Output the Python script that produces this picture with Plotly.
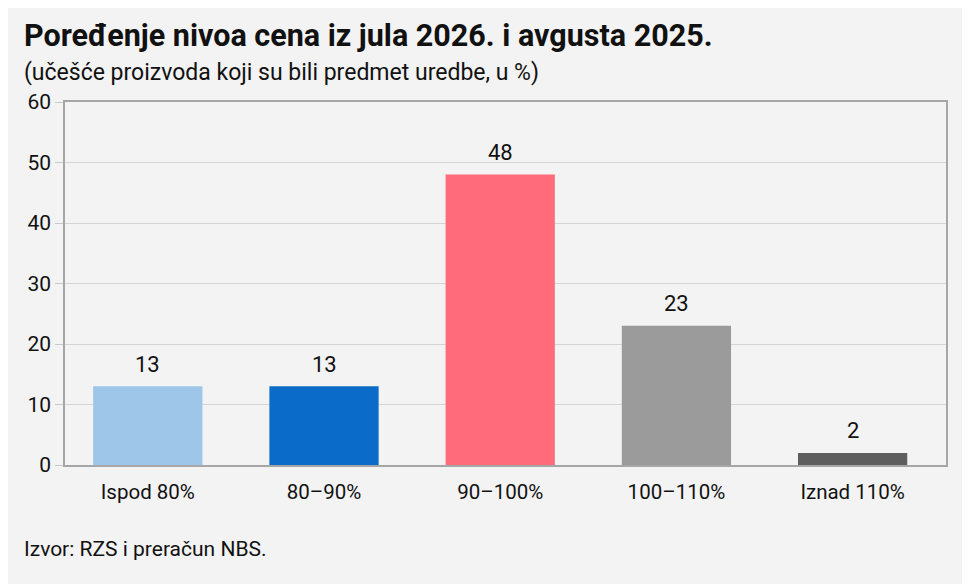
import plotly.graph_objects as go

# udeo proizvoda po nivou cena (jul 2026. vs avgust 2025.)
categories = ["Ispod 80%", "80\u201390%", "90\u2013100%", "100\u2013110%", "Iznad 110%"]
values = [13, 13, 48, 23, 2]
bar_colors = ["#9dc6e8", "#0a6cc8", "#ff6b7a", "#9b9b9b", "#5e5e5e"]
y_ticks = [0, 10, 20, 30, 40, 50, 60]

FONT = "Roboto, Liberation Sans, sans-serif"
BG = "#f3f3f3"

fig = go.Figure()
fig.add_trace(go.Bar(
    x=categories, y=values,
    marker=dict(color=bar_colors, line=dict(width=0)),
    width=0.62,
    showlegend=False,
    hoverinfo="skip",
))

# vrednosti iznad stubaca
for c, v in zip(categories, values):
    fig.add_annotation(
        x=c, y=v, text=str(v), showarrow=False,
        yanchor="middle", yshift=22,
        font=dict(family=FONT, size=22, color="#111111"),
    )

fig.update_layout(
    width=970, height=584,
    paper_bgcolor=BG, plot_bgcolor=BG,
    margin=dict(l=57, r=32, t=94, b=127),
    font=dict(family=FONT, size=20, color="#111111"),
    bargap=0.38,
)

fig.update_xaxes(
    range=[-0.47, 4.53],
    showline=True, linecolor="#a6a6a6", linewidth=1.5,
    mirror=True, ticks="", showgrid=False,
    tickfont=dict(family=FONT, size=20.5, color="#111111"),
    ticklabelstandoff=8,
)
fig.update_yaxes(
    range=[0, 60], tickvals=y_ticks,
    showline=True, linecolor="#a6a6a6", linewidth=1.5, mirror=True,
    showgrid=True, gridcolor="#d4d4d4", gridwidth=1.2,
    ticks="outside", ticklen=8, tickcolor="#c8c8c8",
    tickfont=dict(family=FONT, size=21, color="#111111"),
    zeroline=False,
)

fig.add_annotation(
    text="<b>Pore\u0111enje nivoa cena iz jula 2026. i avgusta 2025.</b>",
    xref="paper", yref="paper", x=-0.049, y=1.0, yshift=67,
    xanchor="left", yanchor="middle", showarrow=False,
    font=dict(family=FONT, size=30.5, color="#111111"),
)
fig.add_annotation(
    text="(u\u010de\u0161\u0107e proizvoda koji su bili predmet uredbe, u %)",
    xref="paper", yref="paper", x=-0.049, y=1.0, yshift=30,
    xanchor="left", yanchor="middle", showarrow=False,
    font=dict(family=FONT, size=23, color="#111111"),
)
fig.add_annotation(
    text="Izvor: RZS i prera\u010dun NBS.",
    xref="paper", yref="paper", x=-0.049, y=0.0, yshift=-84,
    xanchor="left", yanchor="middle", showarrow=False,
    font=dict(family=FONT, size=21, color="#111111"),
)

fig.write_html("out.html")
